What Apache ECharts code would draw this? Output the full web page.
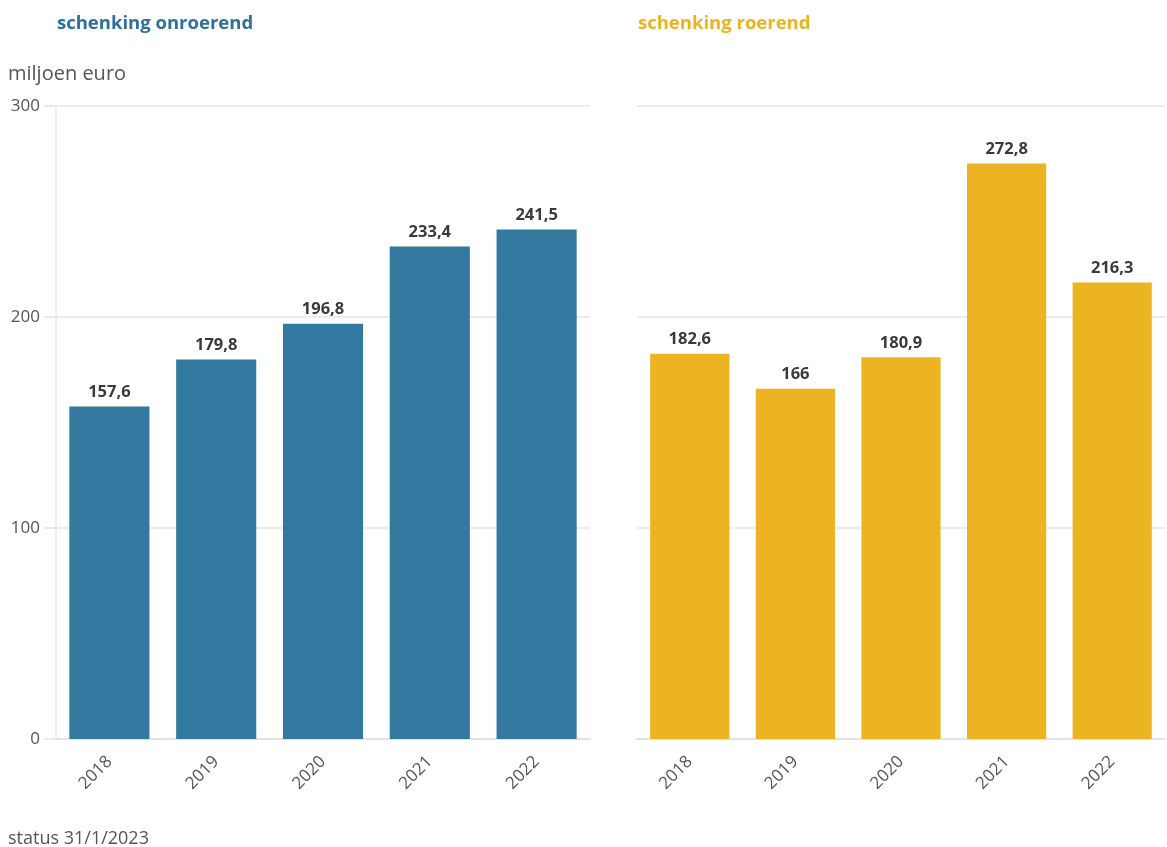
<!DOCTYPE html>
<html><head><meta charset="utf-8">
<script src="https://cdn.jsdelivr.net/npm/echarts@6/dist/echarts.min.js"></script>
<style>html,body{margin:0;padding:0;background:#fff}#c{width:1167px;height:847px}</style>
</head><body><div id="c"></div>
<script>
const categories = ['2018','2019','2020','2021','2022'];
const onroerend = [157.6, 179.8, 196.8, 233.4, 241.5];
const roerend = [182.6, 166, 180.9, 272.8, 216.3];
const yTicks = [0, 100, 200, 300];

const font = '"Open Sans", Lato, sans-serif';
const fmt = p => String(p.value).replace('.', ',');
const chart = echarts.init(document.getElementById('c'));
const xAxisBase = {
  type: 'category', data: categories,
  axisLine: {lineStyle: {color: '#e3e3e3', width: 2}},
  axisTick: {alignWithLabel: true, length: 8, lineStyle: {color: '#e3e3e3', width: 2}},
  axisLabel: {rotate: 45, color: '#555', fontSize: 17, fontFamily: font, margin: 20}
};
chart.setOption({
  animation: false,
  title: [
    {text: 'schenking onroerend', left: 52, top: 9, textStyle: {color: '#2e7099', fontSize: 18.5, fontWeight: 'bold', fontFamily: font}},
    {text: 'schenking roerend', left: 633, top: 9, textStyle: {color: '#ecb31f', fontSize: 18.5, fontWeight: 'bold', fontFamily: font}},
    {text: 'miljoen euro', left: 3, top: 59, textStyle: {color: '#555', fontSize: 20, fontWeight: 'normal', fontFamily: font}},
    {text: 'status 31/1/2023', left: 3, top: 825, textStyle: {color: '#555', fontSize: 18, fontWeight: 'normal', fontFamily: font}}
  ],
  grid: [
    {left: 56, top: 106, width: 534, height: 633},
    {left: 637, top: 106, width: 528, height: 633}
  ],
  xAxis: [
    Object.assign({gridIndex: 0}, xAxisBase),
    Object.assign({gridIndex: 1}, xAxisBase)
  ],
  yAxis: [
    {gridIndex: 0, type: 'value', min: yTicks[0], max: yTicks[yTicks.length-1], interval: 100,
     axisLine: {show: true, lineStyle: {color: '#e8e8e8', width: 1.5}},
     axisTick: {show: true, length: 12, lineStyle: {color: '#e8e8e8', width: 2}},
     splitLine: {lineStyle: {color: '#ececec', width: 2}},
     axisLabel: {color: '#555', fontSize: 17, fontFamily: font, margin: 16}},
    {gridIndex: 1, type: 'value', min: 0, max: 300, interval: 100,
     axisLine: {show: false}, axisTick: {show: false}, axisLabel: {show: false},
     splitLine: {lineStyle: {color: '#ececec', width: 2}}}
  ],
  series: [
    {type: 'bar', xAxisIndex: 0, yAxisIndex: 0, data: onroerend, barWidth: '75%',
     itemStyle: {color: '#33789f'},
     label: {show: true, position: 'top', distance: 6, formatter: fmt, color: '#3a3a3a', fontWeight: 'bold', fontSize: 16.5, fontFamily: font}},
    {type: 'bar', xAxisIndex: 1, yAxisIndex: 1, data: roerend, barWidth: '75%',
     itemStyle: {color: '#edb421'},
     label: {show: true, position: 'top', distance: 6, formatter: fmt, color: '#3a3a3a', fontWeight: 'bold', fontSize: 16.5, fontFamily: font}}
  ]
});
</script></body></html>
